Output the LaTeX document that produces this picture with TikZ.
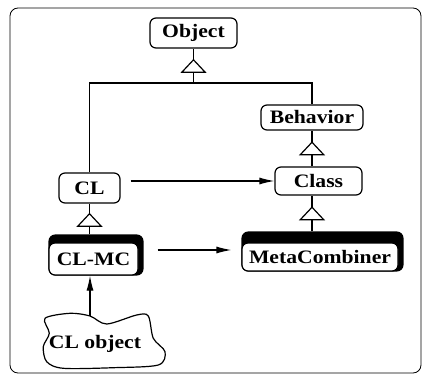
\documentclass[tikz,border=0pt]{standalone}
\usepackage{fontspec}
\newfontfamily\diagfont{Liberation Serif}[FakeStretch=1.14]
\usetikzlibrary{arrows.meta,backgrounds,decorations.markings}

\begin{document}
\begin{tikzpicture}[x=1pt,y=1pt,line width=1.2pt,
        cls/.style={draw,rounded corners=6pt,fill=white,inner sep=0pt,
            font=\diagfont\bfseries\fontsize{19}{21}\selectfont},
        isa/.style={postaction=decorate,decoration={markings,
            mark=at position 0.7 with {\arrow{Triangle[fill=white,length=14pt,width=26pt]}}}},
        uses/.style={-{Latex[length=15pt,width=7pt]}}]
        \useasboundingbox(0,0)rectangle(425,383);
        \draw[line width=0.8pt,rounded corners=8pt](10,10)rectangle(421,375);
        % classes
        \node[cls,minimum width=87pt,minimum height=30pt](object)at(193.5,350){Object};
        \node[cls,minimum width=102pt,minimum height=25pt](behavior)at(312,265.5){Behavior};
        \node[cls,minimum width=87pt,minimum height=28pt](class)at(318.5,202){Class};
        \node[cls,minimum width=156pt,minimum height=28pt](metacomb)at(320,126){MetaCombiner};
        \node[cls,minimum width=61pt,minimum height=30pt](cl)at(89.5,195){CL};
        \node[cls,minimum width=89pt,minimum height=32pt](clmc)at(93.5,124){CL-MC};
        \node[font=\diagfont\bfseries\fontsize{19}{21}\selectfont](clobj)at(95,39){CL object};
        \draw[shift={(clobj.center)}]plot[smooth cycle]coordinates{(-50,25.7)(-25,30.7)(-5,28)(11.7,20)
            (41.7,29)(53.3,28)(58.3,5.7)(70,-7.7)(63.3,-21)(18.3,-23.7)(-31.7,-24.3)(-48.3,-17.7)
            (-51.7,-2.7)(-45.7,10.7)};
        % metaclass shadows
        \begin{scope}[on background layer]
            \fill[rounded corners=7pt](metacomb.south west)rectangle([shift={(5pt,11pt)}]metacomb.north east);
            \fill[rounded corners=7pt](clmc.south west)rectangle([shift={(5pt,8pt)}]clmc.north east);
        \end{scope}
        \coordinate(bus)at(193.5,300);
        \coordinate(objtop)at(90,67);
        \coordinate(mcin)at([yshift=7pt]metacomb.west);
        % inheritance
        \draw[isa](bus)--(object.south);
        \draw(cl.north)|-(bus)-|(behavior.north);
        \draw[isa](class.north -| behavior)--(behavior.south);
        \draw[isa]([yshift=11pt]metacomb.north -| behavior)--(class.south -| behavior);
        \draw[isa]([yshift=8pt]clmc.north -| cl)--(cl.south);
        % instance of
        \draw[uses,shorten <=10pt](cl.east |- class.west)--(class.west);
        \draw[uses,shorten <=19pt,shorten >=10pt](clmc.east |- mcin)--(mcin);
        \draw[uses](objtop)--(clmc.south -| objtop);
    \end{tikzpicture}
\end{document}
